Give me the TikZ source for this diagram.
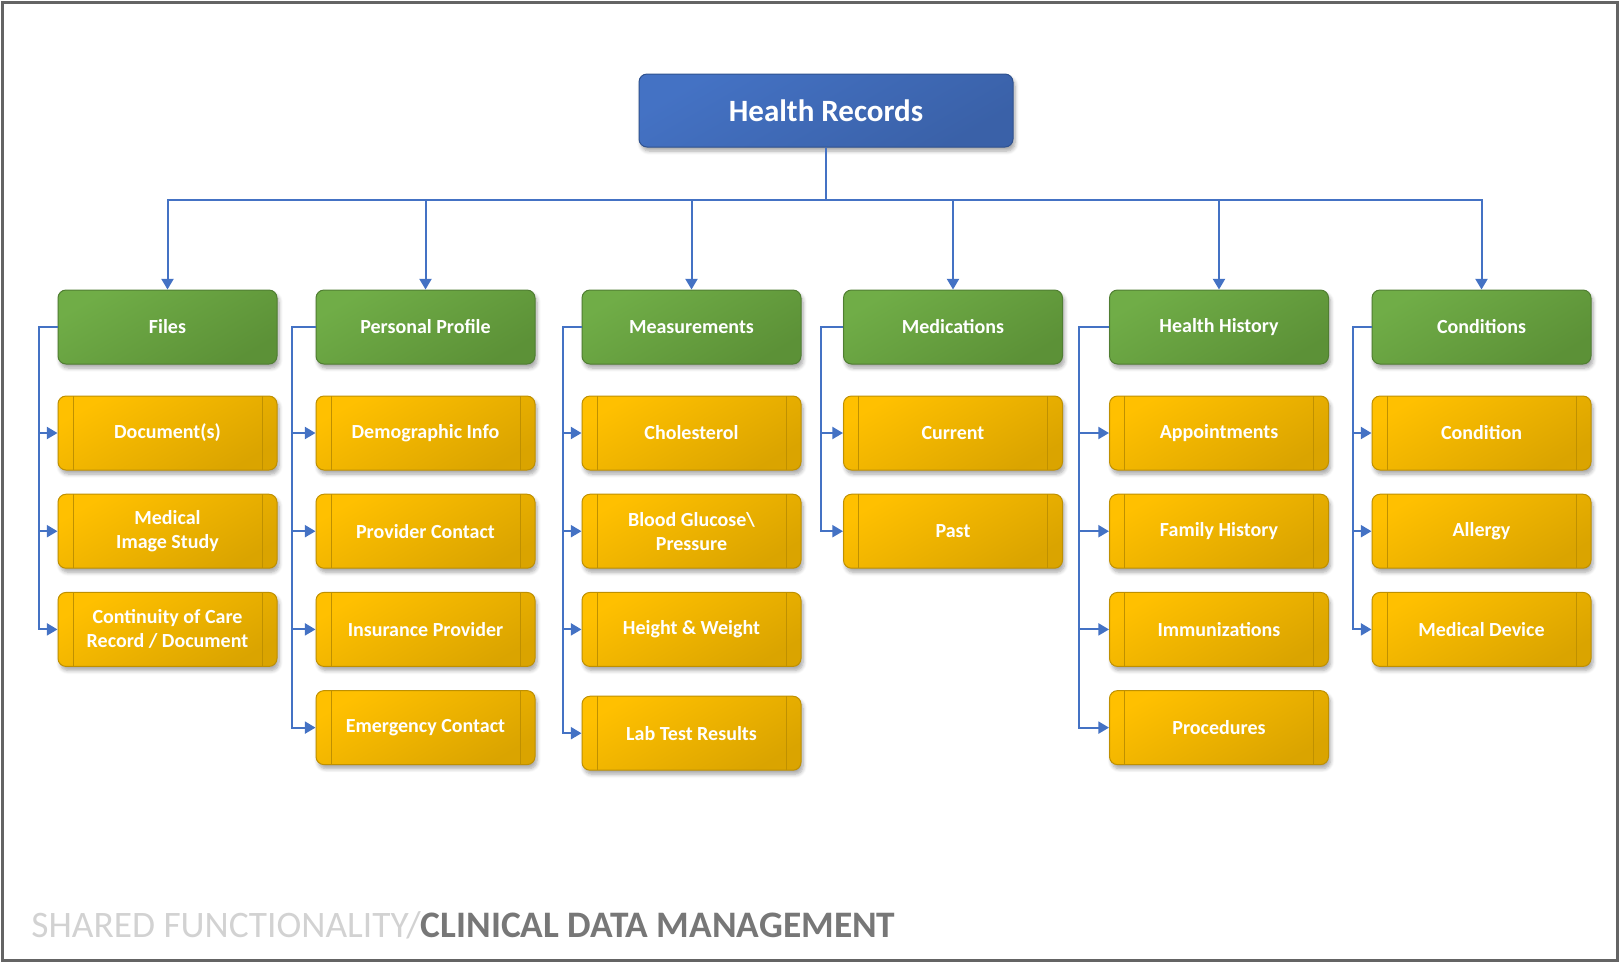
\documentclass[tikz,border=0pt]{standalone}
\usepackage{fontspec}
\setmainfont{Carlito}
\usepackage{xcolor}
\usetikzlibrary{arrows.meta,positioning,shadows.blur}

\definecolor{recblue}{HTML}{4472C4}
\definecolor{recbluedark}{HTML}{3A61A8}
\definecolor{recblueline}{HTML}{2F528F}
\definecolor{grouplight}{HTML}{70AD47}
\definecolor{groupdark}{HTML}{5C9137}
\definecolor{groupline}{HTML}{507E32}
\definecolor{itemlight}{HTML}{FFC000}
\definecolor{itemdark}{HTML}{DAA400}
\definecolor{itemline}{HTML}{BF9000}
\definecolor{linkblue}{HTML}{4472C4}
\definecolor{framegray}{HTML}{646464}
\definecolor{footlight}{HTML}{D2D2D2}
\definecolor{footdark}{HTML}{777777}

\begin{document}
\begin{tikzpicture}[
    x=0.5pt, y=0.5pt,
    node distance=11.6pt,
    >={Triangle[length=5.3pt,width=6pt]},
    font=\bfseries\fontsize{10}{12}\selectfont,
    boxshadow/.style={
        blur shadow={shadow xshift=1pt, shadow yshift=-2pt, shadow blur steps=6, shadow opacity=35}
    },
    record/.style={
        rectangle,
        rounded corners=4pt,
        draw=recblueline, line width=0.5pt,
        top color=recblue, bottom color=recbluedark, shading angle=30,
        minimum width=187pt,
        minimum height=36.5pt,
        text=white,
        boxshadow
    },
    group/.style={
        rectangle,
        rounded corners=4pt,
        draw=groupline, line width=0.5pt,
        top color=grouplight, bottom color=groupdark, shading angle=30,
        minimum width=109.5pt,
        minimum height=37pt,
        inner sep=0pt,
        text=white,
        boxshadow
    },
    item/.style={
        rectangle,
        rounded corners=4pt,
        draw=itemline, line width=0.5pt,
        top color=itemlight, bottom color=itemdark, shading angle=30,
        minimum width=109.5pt,
        minimum height=37pt,
        inner sep=0pt,
        text=white,
        align=center,
        boxshadow,
        path picture={
            \draw[itemline, line width=0.5pt]
              ([xshift=7.5pt]path picture bounding box.north west) -- ([xshift=7.5pt]path picture bounding box.south west)
              ([xshift=-7.5pt]path picture bounding box.north east) -- ([xshift=-7.5pt]path picture bounding box.south east);
        }
    },
    link/.style={
        draw=linkblue,
        line width=1pt
    }
  ]
    \useasboundingbox (0,0) rectangle (1623,-966);
    \draw[framegray, line width=1.5pt] (2.5,-2.5) rectangle (1617,-960.5);

    % We start by placing the blocks
    \node [record] (records) at (826,-110.5) {\fontsize{15.5}{18}\selectfont Health Records};

    \node [group] (files)   at (167.5,-327)  {Files};
    \node [group] (profile) at (425.5,-327)  {Personal Profile};
    \node [group] (measure) at (691.5,-327)  {Measurements};
    \node [group] (meds)    at (953,-327)    {Medications};
    \node [group] (history) at (1219,-327)   {Health History};
    \node [group] (conds)   at (1481.5,-327) {Conditions};

    % files
    \node [item, below=15.5pt of files] (docs) {Document(s)};
    \node [item, below=of docs] (image) {Medical\\Image Study};
    \node [item, below=of image] (ccr) {Continuity of Care\\Record / Document};

    % personal profile
    \node [item, below=15.5pt of profile] (demo) {Demographic Info};
    \node [item, below=of demo] (provider) {Provider Contact};
    \node [item, below=of provider] (insurance) {Insurance Provider};
    \node [item, below=of insurance] (emergency) {Emergency Contact};

    % measurements
    \node [item, below=15.5pt of measure] (chol) {Cholesterol};
    \node [item, below=of chol] (glucose) {Blood Glucose\textbackslash\\Pressure};
    \node [item, below=of glucose] (weight) {Height \& Weight};
    \node [item, below=14.4pt of weight] (lab) {Lab Test Results};

    % medications
    \node [item, below=15.5pt of meds] (current) {Current};
    \node [item, below=of current] (past) {Past};

    % health history
    \node [item, below=15.5pt of history] (appoint) {Appointments};
    \node [item, below=of appoint] (family) {Family History};
    \node [item, below=of family] (immun) {Immunizations};
    \node [item, below=of immun] (proc) {Procedures};

    % conditions
    \node [item, below=15.5pt of conds] (cond) {Condition};
    \node [item, below=of cond] (allergy) {Allergy};
    \node [item, below=of allergy] (device) {Medical Device};

    % connectors
    \coordinate (bus) at (826,-200);
    \foreach \g in {files,profile,measure,meds,history,conds}
        \draw [link,->] (records.south) -- (bus) -| (\g.north);

    \foreach \g/\d/\kids in {files/9.5pt/{docs,image,ccr},
                             profile/12pt/{demo,provider,insurance,emergency},
                             measure/9.5pt/{chol,glucose,weight,lab},
                             meds/11pt/{current,past},
                             history/15pt/{appoint,family,immun,proc},
                             conds/9.5pt/{cond,allergy,device}}
        \foreach \c in \kids
            \draw [link,->] (\g.west) -- ++(-\d,0) |- (\c.west);

    \node [anchor=base west, inner sep=0pt, font=\mdseries\fontsize{18.7}{21}\selectfont] (footer) at (31,-937)
      {\color{footlight}SHARED FUNCTIONALITY/\color{footdark}\bfseries CLINICAL DATA MANAGEMENT};

\end{tikzpicture}
\end{document}
